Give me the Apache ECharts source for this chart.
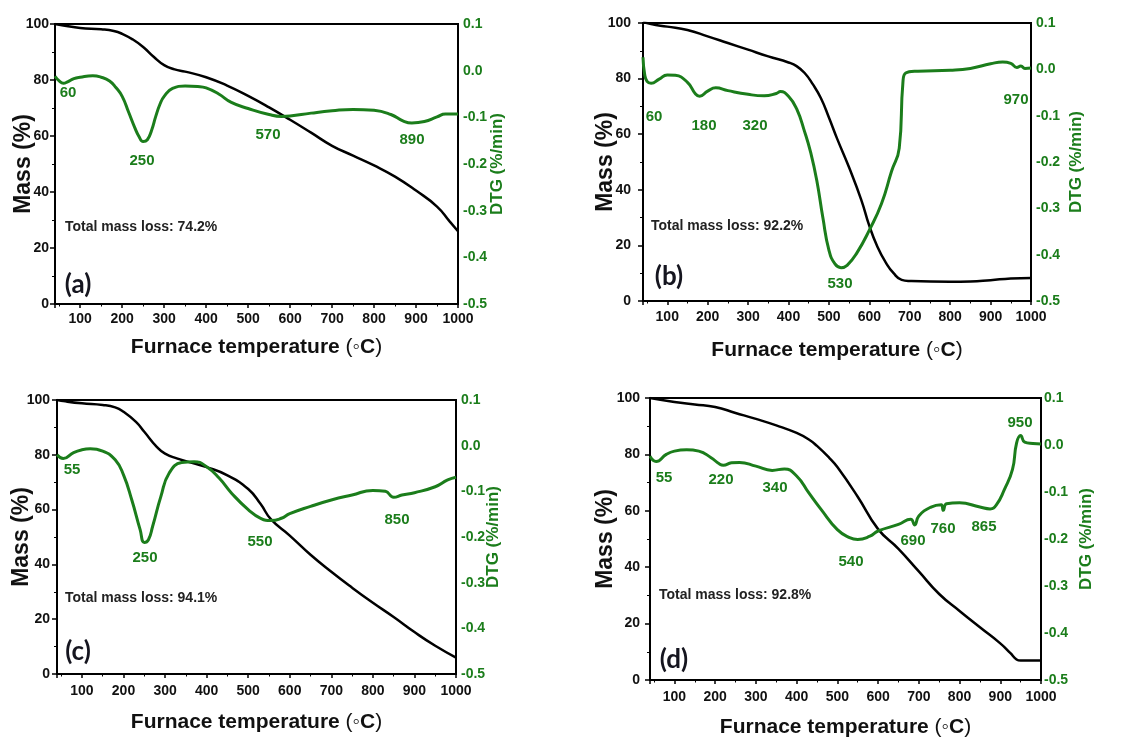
<!DOCTYPE html>
<html>
<head>
<meta charset="utf-8">
<script src="https://cdn.jsdelivr.net/npm/echarts@6/dist/echarts.min.js"></script>
<style>html,body{margin:0;padding:0;background:#fff}#c{width:1142px;height:740px}</style>
</head>
<body>
<div id="c"></div>
<script>
// ---------------- DATA ----------------
// Panel (a)
const massA_T = [40,60,100,150,180,200,225,250,275,300,325,350,400,450,500,550,600,650,700,750,800,850,900,950,980,1000];
const massA   = [100,99.5,98.6,98.1,97.5,96.5,94.5,91.8,88.3,85.3,83.8,83.0,81.0,78.0,74.3,70.2,65.8,61.2,56.5,53.0,49.5,45.5,40.5,34.8,29.5,26.0];
const dtgA_T  = [40,50,60,70,85,100,130,150,170,185,200,215,230,240,250,260,270,280,290,300,320,350,380,400,430,460,500,550,580,600,650,700,750,800,840,870,890,920,950,970,1000];
const dtgA    = [-0.012,-0.022,-0.027,-0.024,-0.017,-0.014,-0.011,-0.014,-0.022,-0.036,-0.055,-0.088,-0.122,-0.141,-0.152,-0.148,-0.128,-0.098,-0.072,-0.055,-0.038,-0.033,-0.034,-0.037,-0.050,-0.068,-0.081,-0.094,-0.098,-0.097,-0.091,-0.086,-0.083,-0.085,-0.094,-0.108,-0.112,-0.109,-0.099,-0.093,-0.093];
// Panel (b)
const massB_T = [40,60,100,150,200,250,300,350,400,420,440,460,480,500,520,550,580,600,620,640,660,680,700,800,850,900,950,1000];
const massB   = [100.5,99.6,98.7,97.5,95.2,92.8,90.4,88.0,85.8,84.5,82.0,78.0,73.0,66.0,58.5,48.0,36.4,27.0,19.5,14.0,10.0,7.6,7.2,6.9,7.0,7.5,8.1,8.3];
const dtgB_T  = [40,44,50,60,80,100,120,150,170,180,200,220,250,300,340,370,380,400,420,440,455,470,485,500,515,530,545,570,600,630,655,674,683,690,720,800,850,900,930,950,965,975,985,1000];
const dtgB    = [0.026,-0.010,-0.026,-0.030,-0.021,-0.012,-0.013,-0.028,-0.053,-0.058,-0.047,-0.040,-0.046,-0.054,-0.057,-0.052,-0.048,-0.058,-0.085,-0.135,-0.180,-0.240,-0.320,-0.390,-0.420,-0.428,-0.423,-0.395,-0.347,-0.290,-0.220,-0.170,-0.030,-0.008,-0.004,-0.002,0.002,0.012,0.016,0.013,0.004,0.007,0.002,0.003];
// Panel (c)
const massC_T = [40,60,100,150,180,200,230,250,280,300,330,350,400,450,500,530,555,600,650,700,750,800,850,900,950,1000];
const massC   = [100,99.5,98.8,98.2,97.3,95.7,92.0,88.4,82.9,80.4,78.6,77.7,75.5,72.5,67.5,62.0,56.4,50.5,43.5,37.3,31.5,26.0,20.8,15.3,10.3,6.0];
const dtgC_T  = [40,55,80,100,120,150,180,200,220,240,250,260,270,290,310,340,370,400,430,460,500,530,555,580,600,650,700,750,800,830,850,870,900,950,980,1000];
const dtgC    = [-0.020,-0.028,-0.015,-0.009,-0.007,-0.012,-0.031,-0.064,-0.119,-0.184,-0.212,-0.206,-0.177,-0.111,-0.060,-0.037,-0.035,-0.046,-0.071,-0.104,-0.140,-0.159,-0.164,-0.159,-0.149,-0.133,-0.119,-0.108,-0.098,-0.100,-0.113,-0.108,-0.103,-0.090,-0.075,-0.069];
// Panel (d)
const massD_T = [40,100,150,200,250,300,350,400,430,450,480,500,550,600,650,700,750,800,850,900,925,940,950,1000];
const massD   = [100,98.6,97.7,96.8,94.7,92.6,90.3,87.6,85.3,83.0,78.8,75.5,65.0,53.5,46.5,38.5,30.5,24.5,18.7,13.0,9.5,7.3,6.9,6.9];
const dtgD_T  = [40,55,80,100,130,160,190,210,220,240,260,300,340,370,400,430,460,500,530,550,580,600,650,680,690,700,730,755,760,768,800,850,875,890,910,930,940,950,960,980,1000];
const dtgD    = [-0.024,-0.035,-0.020,-0.013,-0.010,-0.013,-0.027,-0.040,-0.043,-0.038,-0.037,-0.045,-0.054,-0.051,-0.066,-0.102,-0.137,-0.180,-0.197,-0.201,-0.194,-0.183,-0.169,-0.158,-0.170,-0.151,-0.132,-0.127,-0.139,-0.125,-0.123,-0.132,-0.136,-0.128,-0.095,-0.052,0.004,0.020,0.006,0.003,0.002];

// Tick / annotation texts
const massTicks = [0,20,40,60,80,100];
const dtgTicks  = [-0.5,-0.4,-0.3,-0.2,-0.1,0.0,0.1];
const panelLetters = ['(a)','(b)','(c)','(d)'];
const totalLoss = ['Total mass loss: 74.2%','Total mass loss: 92.2%','Total mass loss: 94.1%','Total mass loss: 92.8%'];
const peaksA = ['60','250','570','890'];
const peaksB = ['60','180','320','530','970'];
const peaksC = ['55','250','550','850'];
const peaksD = ['55','220','340','540','690','760','865','950'];

// ---------------- LAYOUT ----------------
const FONT = '"Liberation Sans", Arial, sans-serif';
const GREEN = '#1b7d1b';
const grids = [
  {left:55,  top:24,  width:403, height:280, lm:6,  xm:8,  ng:20, xg:33, rg:31, rm:5},
  {left:643, top:23,  width:388, height:278, lm:12, xm:9,  ng:26, xg:39, rg:37, rm:5},
  {left:57,  top:400, width:399, height:274, lm:7,  xm:10, ng:24, xg:38, rg:29, rm:5},
  {left:650, top:398, width:391, height:282, lm:10, xm:10, ng:33, xg:37, rg:37, rm:3}
];
const peakPos = [
  [[68,93],[142,161],[268,135],[412,140]],
  [[654,117],[704,126],[755,126],[840,284],[1016,100]],
  [[72,470],[145,558],[260,542],[397,520]],
  [[664,478],[721,480],[775,488],[851,562],[913,541],[943,529],[984,527],[1020,423]]
];
const totalPos = [[65,227],[651,226],[65,598],[659,595]];
const letterPos = [[78,285],[669,277],[78,652],[674,660]];

const chart = echarts.init(document.getElementById('c'), null, {renderer:'canvas'});
const pair = (t, v) => t.map((x, i) => [x, v[i]]);

const gridOpt = [], xAxes = [], yAxes = [], series = [], graphics = [];
const massSets = [[massA_T,massA],[massB_T,massB],[massC_T,massC],[massD_T,massD]];
const dtgSets  = [[dtgA_T,dtgA],[dtgB_T,dtgB],[dtgC_T,dtgC],[dtgD_T,dtgD]];
const peakSets = [peaksA,peaksB,peaksC,peaksD];

grids.forEach((g, i) => {
  gridOpt.push({left:g.left, top:g.top, width:g.width, height:g.height, show:true, borderColor:'#000', borderWidth:2, containLabel:false});
  xAxes.push({
    type:'value', gridIndex:i, min:40, max:1000, splitNumber:10,
    axisLine:{show:true, onZero:false, lineStyle:{color:'#000', width:2}},
    axisTick:{show:true, length:4, lineStyle:{color:'#000', width:1.5}},
    minorTick:{show:true, splitNumber:2, length:2.5, lineStyle:{color:'#000', width:1}},
    splitLine:{show:false},
    axisLabel:{showMinLabel:false, margin:g.xm, fontSize:14, fontWeight:'bold', color:'#111', fontFamily:FONT,
      formatter:v => String(Math.round(v))},
    name:'{b|Furnace temperature }{n|(\u25E6}{b|C}{n|)}', nameLocation:'middle', nameGap:g.xg, nameMoveOverlap:false,
    nameTextStyle:{rich:{
      b:{fontSize:21, fontWeight:'bold', color:'#111', fontFamily:FONT},
      n:{fontSize:21, fontWeight:'normal', color:'#111', fontFamily:FONT}
    }}
  });
  yAxes.push({
    type:'value', gridIndex:i, position:'left', min:massTicks[0], max:massTicks[massTicks.length-1], interval:20,
    axisLine:{show:true, onZero:false, lineStyle:{color:'#000', width:2}},
    axisTick:{show:true, length:5, lineStyle:{color:'#000', width:1.5}},
    minorTick:{show:true, splitNumber:2, length:3, lineStyle:{color:'#000', width:1}},
    splitLine:{show:false},
    axisLabel:{margin:g.lm, fontSize:14, fontWeight:'bold', color:'#111', fontFamily:FONT},
    name:'Mass (%)', nameLocation:'middle', nameGap:g.ng, nameMoveOverlap:false,
    nameTextStyle:{fontSize:23, fontWeight:'bold', color:'#111', fontFamily:FONT}
  });
  yAxes.push({
    type:'value', gridIndex:i, position:'right', min:dtgTicks[0], max:dtgTicks[dtgTicks.length-1], interval:0.1,
    axisLine:{show:true, onZero:false, lineStyle:{color:'#000', width:2}},
    axisTick:{show:false},
    splitLine:{show:false},
    axisLabel:{margin:g.rm, fontSize:14, fontWeight:'bold', color:GREEN, fontFamily:FONT,
      formatter:v => (Math.abs(v) < 1e-9 ? 0 : v).toFixed(1)},
    name:'DTG (%/min)', nameLocation:'middle', nameGap:g.rg, nameMoveOverlap:false,
    nameTextStyle:{fontSize:17, fontWeight:'bold', color:GREEN, fontFamily:FONT}
  });
  series.push({
    type:'line', xAxisIndex:i, yAxisIndex:2*i, data:pair(massSets[i][0], massSets[i][1]),
    showSymbol:false, smooth:0.5, lineStyle:{color:'#000', width:2.5}, z:3, silent:true
  });
  series.push({
    type:'line', xAxisIndex:i, yAxisIndex:2*i+1, data:pair(dtgSets[i][0], dtgSets[i][1]),
    showSymbol:false, smooth:0.5, lineStyle:{color:GREEN, width:3}, z:4, silent:true
  });
  peakSets[i].forEach((txt, k) => {
    graphics.push({type:'text', x:peakPos[i][k][0], y:peakPos[i][k][1], z:10,
      style:{text:txt, fill:GREEN, font:'bold 15px ' + FONT, textAlign:'center', textVerticalAlign:'middle'}});
  });
  graphics.push({type:'text', x:totalPos[i][0], y:totalPos[i][1], z:10,
    style:{text:totalLoss[i], fill:'#222', font:'bold 14px ' + FONT, textAlign:'left', textVerticalAlign:'middle'}});
  graphics.push({type:'text', x:letterPos[i][0], y:letterPos[i][1], z:10,
    style:{text:panelLetters[i], fill:'#15151f', font:'bold 26px Lato, "Open Sans", sans-serif', textAlign:'center', textVerticalAlign:'middle'}});
});

chart.setOption({
  animation:false,
  backgroundColor:'#fff',
  grid:gridOpt, xAxis:xAxes, yAxis:yAxes, series:series, graphic:graphics
});
</script>
</body>
</html>
